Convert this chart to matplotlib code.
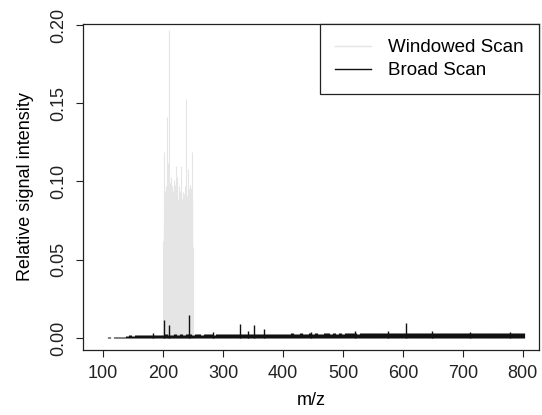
import matplotlib
matplotlib.use("Agg")

import matplotlib.pyplot as plt
import numpy as np

plt.rcParams['font.family'] = ['Liberation Sans', 'DejaVu Sans']

# windowed scan, 200-250 m/z every 0.5
window_mz = np.arange(200.0, 250.01, 0.5)
window_int = [
    0.004, 0.062, 0.119, 0.085, 0.071, 0.094, 0.058, 0.083, 0.090, 0.066,
    0.079, 0.097, 0.141, 0.088, 0.072, 0.095, 0.081, 0.112, 0.087, 0.197,
    0.092, 0.068, 0.084, 0.099, 0.076, 0.091, 0.088, 0.103, 0.094, 0.071,
    0.086, 0.097, 0.062, 0.083, 0.094, 0.078, 0.101, 0.069, 0.088, 0.092,
    0.074, 0.098, 0.110, 0.082, 0.067, 0.091, 0.085, 0.096, 0.103, 0.079,
    0.088, 0.064, 0.092, 0.081, 0.097, 0.073, 0.086, 0.094, 0.070, 0.084,
    0.091, 0.110, 0.077, 0.089, 0.066, 0.093, 0.081, 0.075, 0.088, 0.063,
    0.079, 0.092, 0.084, 0.097, 0.071, 0.153, 0.089, 0.076, 0.094, 0.082,
    0.068, 0.091, 0.079, 0.108, 0.087, 0.072, 0.095, 0.083, 0.077, 0.098,
    0.064, 0.086, 0.092, 0.081, 0.096, 0.119, 0.084, 0.070, 0.089, 0.058,
    0.003,
]

# broad scan baseline, 100-800 m/z every 5 (x 1e-3)
broad_mz = np.arange(100, 801, 5)
broad_base = [
    0.2, 0.0, 0.3, 0.2, 0.4, 0.5, 0.8, 0.9,
    1.4, 1.6, 1.5, 1.8, 1.7, 1.9, 2.0, 1.8, 2.1, 1.9, 2.2, 2.0,
    2.1, 2.3, 2.0, 2.2, 2.4, 2.1, 2.3, 2.2, 2.5, 2.3, 2.1, 2.4, 2.6, 2.2, 2.3, 2.5, 2.4, 2.2, 2.6, 2.3,
    2.4, 2.5, 2.3, 2.7, 2.5, 2.6, 2.4, 2.8, 2.5, 2.6, 2.3, 2.7, 2.6, 2.4, 2.8, 2.5, 2.7, 2.6, 2.4, 2.7,
    2.6, 2.8, 2.5, 2.9, 2.7, 2.6, 3.0, 2.8, 2.7, 2.9, 2.6, 3.1, 2.8, 2.7, 3.0, 2.9, 2.7, 3.1, 2.8, 3.0,
    2.8, 3.0, 2.9, 3.2, 3.0, 2.8, 3.1, 3.3, 2.9, 3.0, 3.2, 2.9, 3.1, 3.0, 3.3, 2.9, 3.1, 3.2, 3.0, 3.1,
    3.0, 3.2, 2.9, 3.1, 3.3, 3.0, 3.2, 3.1, 2.9, 3.3, 3.1, 3.0, 3.2, 3.4, 3.0, 3.1, 3.3, 3.0, 3.2, 3.1,
    3.2, 3.0, 3.3, 3.1, 3.4, 3.2, 3.0, 3.3, 3.1, 3.4, 3.2, 3.0, 3.3, 3.2, 3.1, 3.4, 3.2, 3.0, 3.3, 3.1,
    3.2,
]

# broad scan peaks standing above the baseline
peak_mz = [183, 201.5, 209.5, 243.5, 283, 327.5, 342, 352.5, 368.5, 447,
           520, 575, 605.5, 648, 712, 778]
peak_int = [0.0032, 0.0115, 0.0083, 0.0147, 0.0038, 0.0090, 0.0047, 0.0083,
            0.0056, 0.0041, 0.0042, 0.0044, 0.0095, 0.0043, 0.0040, 0.0041]

fig = plt.figure(figsize=(5.42, 4.15), dpi=100)
ax = fig.add_axes([0.1526, 0.1566, 0.8419, 0.7854])

ax.vlines(window_mz, 0, window_int, color="#e5e5e5", lw=0.8)
ax.vlines(broad_mz, 0, np.array(broad_base) * 1e-3, color="#111111", lw=2.3)
ax.vlines(peak_mz, 0, peak_int, color="#111111", lw=1.0)

ax.plot([], [], color="#e5e5e5", lw=1, label="Windowed Scan")
ax.plot([], [], color="#111111", lw=1, label="Broad Scan")

ax.set_xlim(66, 827)
ax.set_ylim(-0.0077, 0.2006)
ax.set_xticks([100, 200, 300, 400, 500, 600, 700, 800])
ax.set_yticks([0.0, 0.05, 0.10, 0.15, 0.20])
ax.set_yticklabels(["0.00", "0.05", "0.10", "0.15", "0.20"], rotation=90, va="center")
ax.tick_params(direction="out", length=5, width=0.8, labelsize=13, colors="#222222")
ax.tick_params(axis="y", pad=6)
ax.tick_params(axis="x", pad=6)
for s in ax.spines.values():
    s.set_linewidth(0.9)
    s.set_color("#222222")

ax.set_xlabel("m/z", fontsize=13, labelpad=7)
ax.set_ylabel("Relative signal intensity", fontsize=13, labelpad=12)

leg = ax.legend(loc="upper right", fontsize=13.5, borderaxespad=0, fancybox=False,
                handlelength=1.9, handletextpad=0.95, borderpad=0.8, labelspacing=0.32,
                edgecolor="#222222", framealpha=1)
leg.get_frame().set_linewidth(0.9)

plt.savefig("out.png", dpi=100)
